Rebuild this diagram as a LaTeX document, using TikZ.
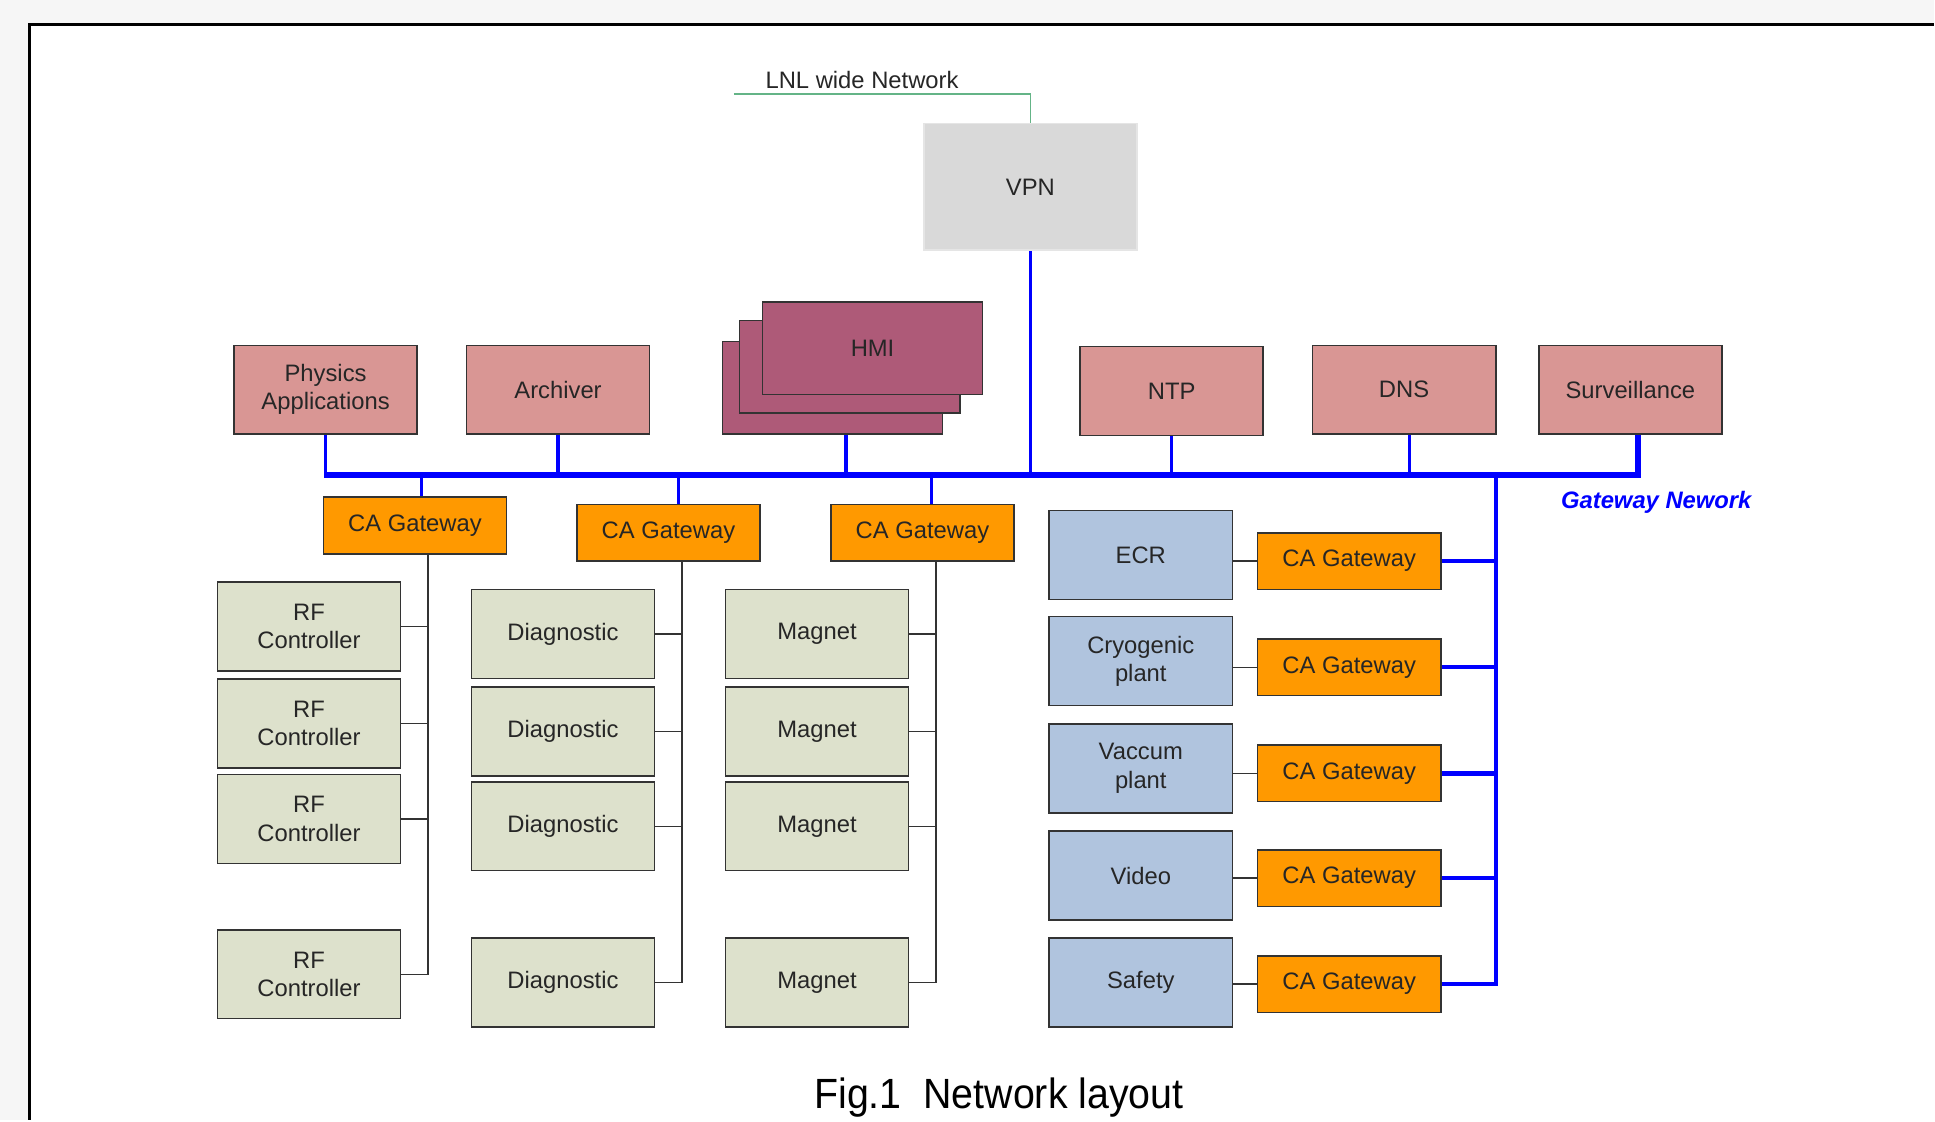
\documentclass[tikz,border=0pt]{standalone}
\usepackage{fontspec}
\setmainfont{Liberation Sans}

\definecolor{srvpink}{RGB}{217,150,148}
\definecolor{hmired}{RGB}{174,90,120}
\definecolor{gworange}{RGB}{255,153,0}
\definecolor{devgreen}{RGB}{221,225,204}
\definecolor{plantblue}{RGB}{176,196,222}
\definecolor{vpngray}{RGB}{217,217,217}
\definecolor{lnlgreen}{RGB}{100,180,135}

\begin{document}
\begin{tikzpicture}[x=0.7pt, y=-0.7pt,
  box/.style={draw=black!80, line width=0.9pt, minimum width=104pt, minimum height=50.4pt,
    inner sep=0pt, align=center, text=black!85, font=\fontsize{13.5}{16}\selectfont},
  srv/.style={box, fill=srvpink},
  hmi/.style={box, fill=hmired, minimum width=125pt, minimum height=52.5pt},
  gw/.style={box, fill=gworange, minimum height=32.2pt},
  dev/.style={box, fill=devgreen},
  plant/.style={box, fill=plantblue},
  drop/.style={blue, line width=1.8pt},
  bus/.style={blue, line width=3.5pt},
  gwnet/.style={blue, line width=2.6pt},
  link/.style={black!80, line width=0.8pt}]

% Фон страницы
\fill[gray!7] (0,0) rectangle (1568,908);
\fill[white] (24,20) rectangle (1568,908);
\draw[black, line width=1.4pt] (24,908) -- (24,20) -- (1568,20);
\useasboundingbox (0,0) rectangle (1568,908);

% VPN и внешняя сеть
\node[box, fill=vpngray, draw=black!10, minimum width=121pt, minimum height=72pt] (vpn) at (835.5,151.5) {VPN};
\node[text=black!85, font=\fontsize{13.5}{16}\selectfont] (lnl) at (699,65) {LNL wide Network};
\coordinate (lnlstart) at (595,76);
\draw[lnlgreen, line width=1pt] (lnlstart) -| (vpn.north);

% Серверы
\node[srv] (phys) at (264,316) {Physics\\Applications};
\node[srv] (arch) at (452.5,316) {Archiver};
\node[hmi] (hmi3) at (675,314.5) {};
\node[hmi] (hmi2) at (689,297.5) {};
\node[hmi] (hmi1) at (707.5,282.5) {HMI};
\node[srv] (ntp) at (950,317) {NTP};
\node[srv] (dns) at (1138.5,316) {DNS};
\node[srv] (surv) at (1322,316) {Surveillance};

% Шина
\coordinate (busL) at (263,385);
\coordinate (busR) at (1328,385);
\draw[bus] (busL) -- (busR) -- (busR |- surv.south);
\foreach \n/\s in {phys/0pt, arch/0pt, hmi3/7.7pt, vpn/0pt, ntp/0pt, dns/3.15pt}
  \draw[drop] ([xshift=\s]\n.south) -- ([xshift=\s]\n.south |- busL);

% Шлюзы под шиной
\node[gw] (gw1) at (336.5,426) {CA Gateway};
\node[gw] (gw2) at (542,432) {CA Gateway};
\node[gw] (gw3) at (748,432) {CA Gateway};
\foreach \n/\s in {gw1/3.85pt, gw2/5.6pt, gw3/4.9pt}
  \draw[drop] ([xshift=\s]\n.north) -- ([xshift=\s]\n.north |- busL);
\coordinate (tr1) at ([xshift=7.35pt]gw1.south);
\coordinate (tr2) at ([xshift=7.7pt]gw2.south);
\coordinate (tr3) at ([xshift=7.7pt]gw3.south);

% Устройства
\foreach \i/\y in {1/508, 2/586.5, 3/664, 4/790}
  \node[dev] (rf\i) at (250.5,\y) {RF\\Controller};
\foreach \i/\y in {1/514, 2/593, 3/670, 4/796.5} {
  \node[dev] (dg\i) at (456.5,\y) {Diagnostic};
  \node[dev] (mg\i) at (662.5,\y) {Magnet};
}
\draw[link] (tr1) |- (rf4.east);
\draw[link] (tr2) |- (dg4.east);
\draw[link] (tr3) |- (mg4.east);
\foreach \i in {1,2,3} {
  \draw[link] (rf\i.east) -- (rf\i.east -| tr1);
  \draw[link] (dg\i.east) -- (dg\i.east -| tr2);
  \draw[link] (mg\i.east) -- (mg\i.east -| tr3);
}

% Установки и их шлюзы
\coordinate (trR) at (1213,385);
\foreach \i/\y/\g/\t in {1/450/455/ECR, 2/536/541/{Cryogenic\\plant}, 3/623/627/{Vaccum\\plant}, 4/710/712/Video, 5/796.5/798/Safety} {
  \node[plant] (pl\i) at (925,\y) {\t};
  \node[gw] (rgw\i) at (1094,\g) {CA Gateway};
  \draw[link] (pl\i.east |- rgw\i.west) -- (rgw\i.west);
}
\draw[gwnet] (trR) |- (rgw5.east);
\foreach \i in {1,...,4}
  \draw[gwnet] (rgw\i.east) -- (rgw\i.east -| trR);

\node[blue, font=\fontsize{13.5}{16}\selectfont\bfseries\itshape] (gwlabel) at (1343,407) {Gateway Nework};

% Подпись
\node[xscale=0.93, font=\fontsize{24}{28}\selectfont] (caption) at (810,890) {Fig.1~~Network layout};

\end{tikzpicture}
\end{document}
